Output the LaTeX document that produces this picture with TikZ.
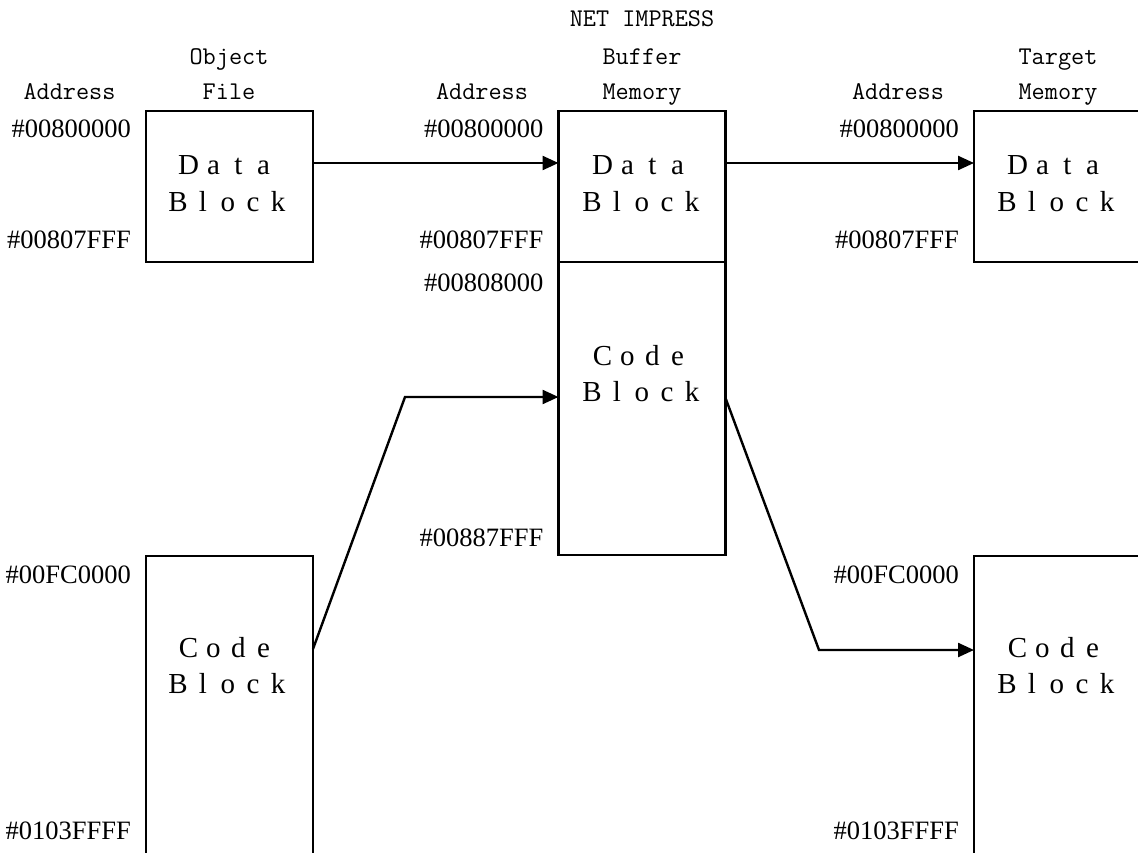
\documentclass[tikz,border=0pt]{standalone}
\usepackage{fontspec}
\usetikzlibrary{arrows.meta}
\newfontfamily\addrfont{Liberation Serif}
\newcommand\fwc[1]{\makebox[25pt]{#1}}
\tikzset{
  box/.style={draw, line width=2.4pt, minimum width=167pt, inner sep=0pt, outer sep=0pt, anchor=north west},
  hdr/.style={font=\ttfamily\fontsize{25.5}{30}\selectfont, anchor=base, inner sep=0pt},
  adr/.style={font=\addrfont\fontsize{26.5}{30}\selectfont, anchor=base east, inner sep=0pt},
  lab/.style={font=\addrfont\fontsize{29}{30}\selectfont, anchor=base, inner sep=0pt},
  conn/.style={line width=2.4pt},
  arr/.style={conn, -{Triangle[length=16pt,width=14pt]}}
}
\begin{document}
\begin{tikzpicture}[x=1pt, y=-1pt]
\useasboundingbox (0,0) rectangle (1138,853);
\clip (0,0) rectangle (1138,853);

% boxes
\node[box, minimum height=151pt] (lD) at (146,111) {};
\node[box, minimum height=344pt] (lC) at (146,556) {};
\node[box, minimum height=151pt] (mD) at (558.5,111) {};
\node[box, minimum height=293pt] (mC) at (558.5,262) {};
\node[box, minimum height=151pt] (rD) at (974,111) {};
\node[box, minimum height=344pt] (rC) at (974,556) {};

% headers
\node[hdr] (hA1) at (69.5,100) {Address};
\node[hdr] (hO1) at (229,65) {Object};
\node[hdr] (hO2) at (229,100) {File};
\node[hdr] (hA2) at (482,100) {Address};
\node[hdr] (hN1) at (642,26.7) {NET IMPRESS};
\node[hdr] (hN2) at (642,65) {Buffer};
\node[hdr] (hN3) at (642,100) {Memory};
\node[hdr] (hA3) at (898,100) {Address};
\node[hdr] (hT1) at (1058,65) {Target};
\node[hdr] (hT2) at (1058,100) {Memory};

% addresses
\node[adr] (a1) at (131,138) {\#00800000};
\node[adr] (a2) at (131,248) {\#00807FFF};
\node[adr] (a3) at (131,583) {\#00FC0000};
\node[adr] (a4) at (131,839) {\#0103FFFF};
\node[adr] (a5) at (543.5,138) {\#00800000};
\node[adr] (a6) at (543.5,248) {\#00807FFF};
\node[adr] (a7) at (543.5,291.7) {\#00808000};
\node[adr] (a8) at (543.5,546.7) {\#00887FFF};
\node[adr] (a9) at (959,138) {\#00800000};
\node[adr] (a10) at (959,248) {\#00807FFF};
\node[adr] (a11) at (959,583) {\#00FC0000};
\node[adr] (a12) at (959,839) {\#0103FFFF};

% block labels
\node[lab] (l1) at (226,175) {\fwc{D}\fwc{a}\fwc{t}\fwc{a}};
\node[lab] (l2) at (228,211.7) {\fwc{B}\fwc{l}\fwc{o}\fwc{c}\fwc{k}};
\node[lab] (l3) at (226,657) {\fwc{C}\fwc{o}\fwc{d}\fwc{e}};
\node[lab] (l4) at (228,693) {\fwc{B}\fwc{l}\fwc{o}\fwc{c}\fwc{k}};
\node[lab] (l5) at (640,175) {\fwc{D}\fwc{a}\fwc{t}\fwc{a}};
\node[lab] (l6) at (642,211.7) {\fwc{B}\fwc{l}\fwc{o}\fwc{c}\fwc{k}};
\node[lab] (l7) at (640,365) {\fwc{C}\fwc{o}\fwc{d}\fwc{e}};
\node[lab] (l8) at (642,401) {\fwc{B}\fwc{l}\fwc{o}\fwc{c}\fwc{k}};
\node[lab] (l9) at (1055,175) {\fwc{D}\fwc{a}\fwc{t}\fwc{a}};
\node[lab] (l10) at (1057,211.7) {\fwc{B}\fwc{l}\fwc{o}\fwc{c}\fwc{k}};
\node[lab] (l11) at (1055,657) {\fwc{C}\fwc{o}\fwc{d}\fwc{e}};
\node[lab] (l12) at (1057,693) {\fwc{B}\fwc{l}\fwc{o}\fwc{c}\fwc{k}};

% connectors
\coordinate (c1) at (405,397);
\coordinate (c2) at (819,650);
\draw[arr] ([yshift=-52pt]lD.north east) -- ([yshift=-52pt]mD.north west);
\draw[arr] ([yshift=-52pt]mD.north east) -- ([yshift=-52pt]rD.north west);
\draw[arr] ([yshift=-93pt]lC.north east) -- (c1) -- (c1 -| mC.west);
\draw[arr] ([yshift=-136pt]mC.north east) -- (c2) -- (c2 -| rC.west);
\end{tikzpicture}
\end{document}
